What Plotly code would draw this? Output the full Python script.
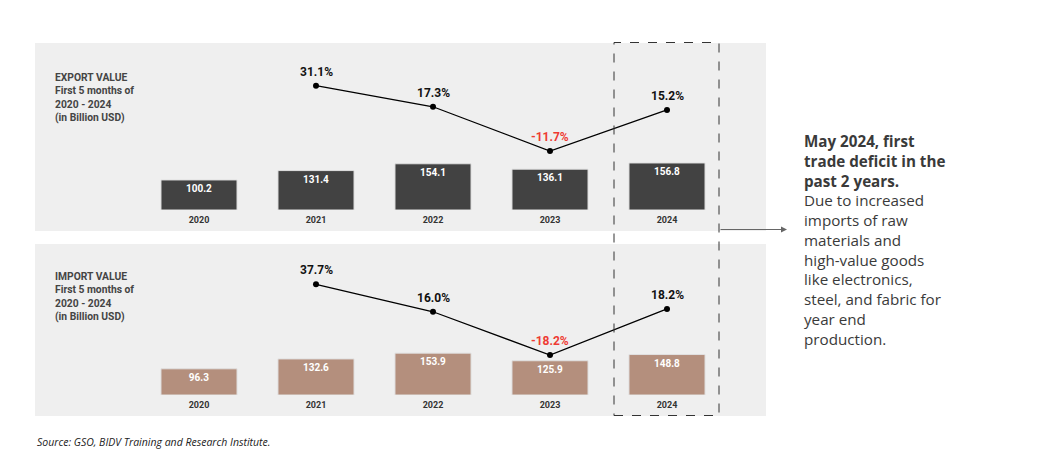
import plotly.graph_objects as go

years = ['2020', '2021', '2022', '2023', '2024']
export_vals = [100.2, 131.4, 154.1, 136.1, 156.8]
import_vals = [96.3, 132.6, 153.9, 125.9, 148.8]
growth_years = ['2021', '2022', '2023', '2024']
export_growth = [31.1, 17.3, -11.7, 15.2]
import_growth = [37.7, 16.0, -18.2, 18.2]

W, H = 1042, 474


def px(x):
    return x / W


def py(y):
    return 1 - y / H


EXPORT_COLOR = '#424242'
IMPORT_COLOR = '#b48f7d'
PANEL = '#efefef'
FONT = 'Roboto'

fig = go.Figure()

fig.add_trace(go.Bar(
    x=years, y=export_vals, xaxis='x', yaxis='y',
    marker=dict(color=EXPORT_COLOR, line=dict(color='#e0e0e0', width=1)),
    texttemplate='%{y:.1f}', textposition='inside', insidetextanchor='end',
    textfont=dict(family=FONT, size=10, color='white', weight='bold'),
    constraintext='none', hoverinfo='skip', showlegend=False))
fig.add_trace(go.Bar(
    x=years, y=import_vals, xaxis='x2', yaxis='y3',
    marker=dict(color=IMPORT_COLOR, line=dict(color='#e0e0e0', width=1)),
    texttemplate='%{y:.1f}', textposition='inside', insidetextanchor='end',
    textfont=dict(family=FONT, size=10, color='white', weight='bold'),
    constraintext='none', hoverinfo='skip', showlegend=False))

fig.add_trace(go.Scatter(
    x=growth_years, y=export_growth, xaxis='x', yaxis='y2', mode='lines+markers',
    line=dict(color='black', width=1.3), marker=dict(color='black', size=6),
    hoverinfo='skip', showlegend=False))
fig.add_trace(go.Scatter(
    x=growth_years, y=import_growth, xaxis='x2', yaxis='y4', mode='lines+markers',
    line=dict(color='black', width=1.3), marker=dict(color='black', size=6),
    hoverinfo='skip', showlegend=False))

annotations = []
for xs, vals, xref, yref in [(growth_years, export_growth, 'x', 'y2'),
                             (growth_years, import_growth, 'x2', 'y4')]:
    for xv, v in zip(xs, vals):
        annotations.append(dict(
            x=years.index(xv), y=v, xref=xref, yref=yref,
            text=f'{v:.1f}%', showarrow=False, yshift=14,
            font=dict(family=FONT, size=12, weight='bold',
                      color='#ee3b33' if v < 0 else '#111111')))

annotations.append(dict(
    x=px(53), y=py(69), xref='paper', yref='paper', xanchor='left', yanchor='top',
    align='left', showarrow=False,
    text='EXPORT VALUE<br>First 5 months of<br>2020 - 2024<br>(in Billion USD)',
    font=dict(family=FONT, size=10.3, weight='bold', color='#444444')))
annotations.append(dict(
    x=px(53), y=py(268), xref='paper', yref='paper', xanchor='left', yanchor='top',
    align='left', showarrow=False,
    text='IMPORT VALUE<br>First 5 months of<br>2020 - 2024<br>(in Billion USD)',
    font=dict(family=FONT, size=10.3, weight='bold', color='#444444')))

annotations.append(dict(
    x=px(802), y=py(129), xref='paper', yref='paper', xanchor='left', yanchor='top',
    align='left', showarrow=False,
    text=('<b>May 2024, first</b><br><b>trade deficit in the</b><br><b>past 2 years.</b><br>'
          'Due to increased<br>imports of raw<br>materials and<br>high-value goods<br>'
          'like electronics,<br>steel, and fabric for<br>year end<br>production.'),
    font=dict(family='Open Sans', size=15.2, color='#3a3a3a')))

annotations.append(dict(
    x=px(787), y=py(229.5), xref='paper', yref='paper',
    ax=-68, ay=0, axref='pixel', ayref='pixel',
    text='', showarrow=True, arrowhead=2, arrowsize=1.2, arrowwidth=1,
    arrowcolor='#666666'))

annotations.append(dict(
    x=px(35), y=py(442), xref='paper', yref='paper', xanchor='left', yanchor='middle',
    showarrow=False, text='<i>Source: GSO, BIDV Training and Research Institute.</i>',
    font=dict(family='Open Sans', size=10.5, color='#222222')))

shapes = [
    dict(type='rect', xref='paper', yref='paper', x0=px(35), x1=px(766), y0=py(231), y1=py(43),
         fillcolor=PANEL, line=dict(width=0), layer='below'),
    dict(type='rect', xref='paper', yref='paper', x0=px(35), x1=px(766), y0=py(416), y1=py(244),
         fillcolor=PANEL, line=dict(width=0), layer='below'),
    dict(type='rect', xref='paper', yref='paper', x0=px(614), x1=px(719), y0=py(415.5), y1=py(42.5),
         line=dict(color='#333333', width=1, dash='dash'), fillcolor='rgba(0,0,0,0)', layer='above'),
]

xdom = [px(140.5), px(725.5)]
xcommon = dict(domain=xdom, type='category', categoryorder='array', categoryarray=years,
               range=[-0.5, 4.5], showgrid=False, zeroline=False, showline=False, ticks='',
               ticklabelstandoff=3,
               tickfont=dict(family=FONT, size=9, weight='bold', color='#333333'), fixedrange=True)
ycommon = dict(visible=False, showgrid=False, zeroline=False, fixedrange=True)

# line axes: pixel mapping
exp_scale = 1.526  # px per percent point
exp_top_px, exp_bot_px = 70, 160
exp_top_val = 31.1 + (85.7 - exp_top_px) / exp_scale
exp_bot_val = exp_top_val - (exp_bot_px - exp_top_px) / exp_scale

imp_scale = 1.265
imp_top_px, imp_bot_px = 270, 370
imp_top_val = 37.7 + (284.3 - imp_top_px) / imp_scale
imp_bot_val = imp_top_val - (imp_bot_px - imp_top_px) / imp_scale

fig.update_layout(
    width=W, height=H, margin=dict(l=0, r=0, t=0, b=0),
    paper_bgcolor='white', plot_bgcolor='rgba(0,0,0,0)',
    bargap=0.35,
    xaxis=dict(**xcommon, anchor='y'),
    xaxis2=dict(**xcommon, anchor='y3'),
    yaxis=dict(**ycommon, domain=[py(210), py(150)], range=[0, 200], anchor='x'),
    yaxis2=dict(**ycommon, domain=[py(exp_bot_px), py(exp_top_px)], range=[exp_bot_val, exp_top_val], anchor='x'),
    yaxis3=dict(**ycommon, domain=[py(395), py(340.6)], range=[0, 200], anchor='x2'),
    yaxis4=dict(**ycommon, domain=[py(imp_bot_px), py(imp_top_px)], range=[imp_bot_val, imp_top_val], anchor='x2'),
    annotations=annotations, shapes=shapes,
)

fig.write_html('out.html')
